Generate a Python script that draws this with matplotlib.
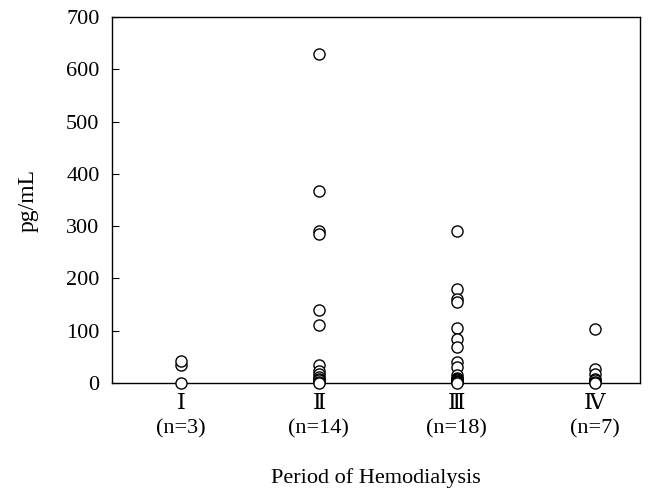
import matplotlib
matplotlib.use("Agg")
import matplotlib.pyplot as plt

plt.rcParams['font.family'] = ['Liberation Serif', 'DejaVu Serif']

categories = ["Ⅰ\n(n=3)", "Ⅱ\n(n=14)", "Ⅲ\n(n=18)", "Ⅳ\n(n=7)"]
group_I = [0, 35, 42]
group_II = [630, 368, 290, 285, 140, 110, 35, 22, 18, 12, 8, 5, 2, 0]
group_III = [290, 180, 160, 155, 105, 85, 68, 40, 30, 15, 10, 8, 6, 5, 3, 2, 1, 0]
group_IV = [103, 27, 18, 8, 5, 2, 0]
groups = [group_I, group_II, group_III, group_IV]
yticks = [0, 100, 200, 300, 400, 500, 600, 700]

fig = plt.figure(figsize=(6.71, 4.91), dpi=100)
ax = fig.add_axes([0.167, 0.22, 0.787, 0.745])

for i, g in enumerate(groups):
    ax.plot([i + 1] * len(g), g, linestyle='none', marker='o', markersize=8,
            markerfacecolor='white', markeredgecolor='black', markeredgewidth=1.0,
            clip_on=False, zorder=3)

ax.set_xlim(0.5, 4.33)
ax.set_ylim(0, 700)
ax.set_yticks(yticks)
ax.set_xticks([1, 2, 3, 4])
ax.set_xticklabels(categories, fontsize=16, linespacing=1.3)
ax.tick_params(axis='x', length=0, pad=9)
ax.tick_params(axis='y', direction='in', length=5, labelsize=16, pad=9)
for s in ax.spines.values():
    s.set_linewidth(1.0)
ax.set_ylabel("pg/mL", fontsize=17, labelpad=20)
ax.set_xlabel("Period of Hemodialysis", fontsize=16, labelpad=22)

fig.savefig("out.png", dpi=100)
